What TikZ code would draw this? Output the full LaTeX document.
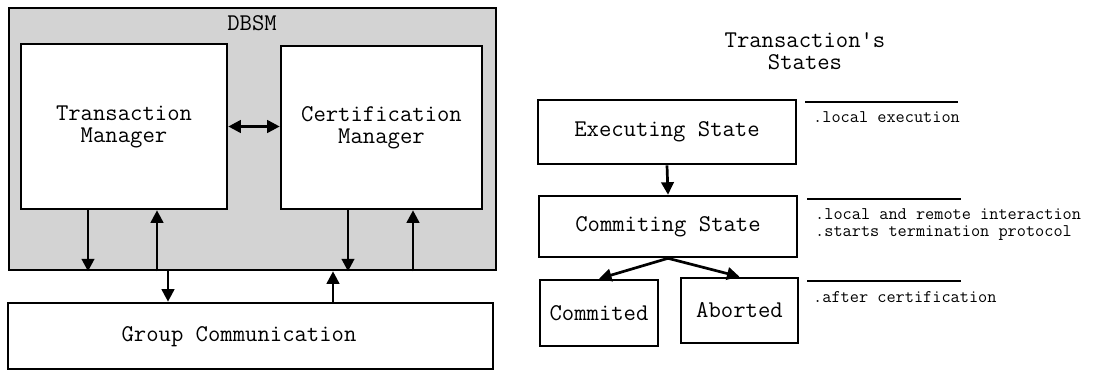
\documentclass[tikz,border=0pt]{standalone}
\usepackage{fontspec}
\usetikzlibrary{arrows.meta}
\definecolor{panelgray}{HTML}{D3D3D3}
\tikzset{
  tip/.tip={Triangle[length=12.5pt,width=12.5pt]},
  box/.style={draw=black, line width=2.6pt, fill=white, inner sep=0pt, align=center,
              font=\ttfamily\fontsize{24}{22}\selectfont},
  arr/.style={line width=2.7pt, -tip},
  biarr/.style={line width=2.7pt, tip-tip},
  bigtext/.style={inner sep=0pt, align=center, font=\ttfamily\fontsize{24}{22}\selectfont},
  note/.style={inner sep=0pt, anchor=west, align=left, font=\ttfamily\fontsize{17.8}{17}\selectfont},
  rule/.style={line width=2.6pt}
}
\begin{document}
\begin{tikzpicture}[x=1pt,y=-1pt]
\useasboundingbox (0,0) rectangle (1095,371);
% ---- left: DBSM architecture ----
\node[box, fill=panelgray, minimum width=487pt, minimum height=262pt] (dbsm) at (252.5,139) {};
\node[bigtext] (dbsmlabel) at (252,23) {DBSM};
\node[box, minimum width=206pt, minimum height=165pt] (tm) at (124,126.5) {Transaction\\Manager};
\node[box, minimum width=201pt, minimum height=163pt] (cm) at (381.5,127.5) {Certification\\Manager};
\node[box, minimum width=485pt, minimum height=66pt] (gc) at (250.5,336) {};
\node[bigtext] (gctext) at (239,337) {Group Communication};

\coordinate (xa) at (88,0);
\coordinate (xb) at (157,0);
\coordinate (xc) at (168,0);
\coordinate (xd) at (333,0);
\coordinate (xe) at (348,0);
\coordinate (xf) at (413,0);

\draw[arr] (tm.south -| xa) -- (dbsm.south -| xa);
\draw[arr] (dbsm.south -| xb) -- (tm.south -| xb);
\draw[arr] (dbsm.south -| xc) -- (gc.north -| xc);
\draw[arr] (gc.north -| xd) -- (dbsm.south -| xd);
\draw[arr] (cm.south -| xe) -- (dbsm.south -| xe);
\draw[arr] (dbsm.south -| xf) -- (cm.south -| xf);
\draw[biarr] (tm.east) -- (tm.east -| cm.west);

% ---- right: transaction states ----
\node[bigtext] (title) at (805,51) {Transaction\char39 s\\States};
\node[box, minimum width=258pt, minimum height=64pt] (ex) at (667,132) {Executing State};
\node[box, minimum width=258pt, minimum height=61pt] (co) at (668,226.5) {Commiting State};
\node[box, minimum width=118pt, minimum height=66pt] (cd) at (599,313) {Commited};
\node[box, minimum width=117pt, minimum height=65pt] (ab) at (739.5,310.5) {Aborted};

\draw[arr] (ex.south) -- (co.north);
\draw[arr] (co.south) -- (cd.north);
\draw[arr] (co.south) -- (ab.north);

\draw[rule] (805,102) -- (958,102);
\draw[rule] (807,199) -- (961,199);
\draw[rule] (807,281) -- (961,281);

\node[note] (n1) at (813,117) {.local execution};
\node[note] (n2) at (815,225) {.local and remote interaction\\.starts termination protocol};
\node[note] (n3) at (813,297) {.after certification};
\end{tikzpicture}
\end{document}
